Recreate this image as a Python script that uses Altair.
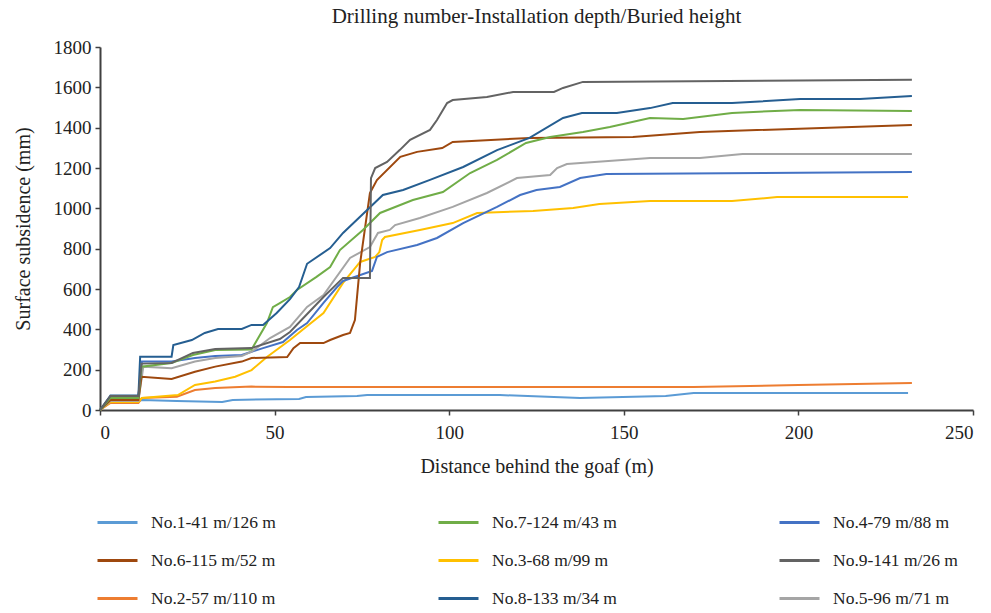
import altair as alt
import pandas as pd

# Series labels (legend order, column-major for 3 columns of 3)
series_order = ["No.1-41 m/126 m", "No.6-115 m/52 m", "No.2-57 m/110 m",
                "No.7-124 m/43 m", "No.3-68 m/99 m", "No.8-133 m/34 m",
                "No.4-79 m/88 m", "No.9-141 m/26 m", "No.5-96 m/71 m"]
series_colors = ["#5B9BD5", "#9E480E", "#ED7D31",
                 "#70AD47", "#FFC000", "#255E91",
                 "#4472C4", "#636363", "#A5A5A5"]

x1 = [0, 3, 11, 12, 22, 35, 38, 57, 59, 73.6, 76.5, 114.5, 137.5, 162, 170, 231.4]
y1 = [0, 45, 45, 50, 45, 40, 50, 55, 64, 69, 74, 74, 60, 69, 84, 84]

x2 = [0, 3, 11, 12, 22, 27.2, 33, 43.4, 54, 170, 200, 232.5]
y2 = [0, 35, 35, 60, 66, 99, 109, 116, 114, 114, 124, 134]

x3 = [0, 3, 11, 12, 22.3, 27.2, 33, 38.7, 43.4, 47.8, 54.4, 59, 64, 69.6, 74.5, 78.8, 80,
      80.8, 81.6, 91.6, 101, 108, 124, 135.5, 143, 157.5, 181, 193.9, 231.4]
y3 = [0, 40, 40, 60, 74, 124, 141, 165, 198, 263, 347, 412, 481, 630, 734, 759, 783,
      843, 858, 893, 927, 977, 987, 1002, 1022, 1036, 1036, 1056, 1056]

x4 = [0, 3, 11, 12, 20.5, 27.2, 33, 40.6, 43.4, 46.7, 52.4, 56.4, 59.3, 64, 67.9, 69.6,
      77.9, 79.3, 82.2, 90.8, 96.5, 104, 113.7, 120.3, 125, 131.7, 137.5, 145, 232.5]
y4 = [0, 65, 65, 240, 240, 258, 268, 273, 289, 307, 337, 397, 431, 531, 610, 640,
      690, 759, 783, 818, 853, 927, 1007, 1066, 1091, 1106, 1150, 1170, 1180]

x5 = [0, 3, 11, 12.4, 20.5, 27.2, 33, 40.6, 43.4, 48.7, 54.4, 59.3, 64, 71.6, 77.3, 79.6,
      83, 84.5, 91.6, 101, 110.8, 119.4, 128.9, 130.9, 133.7, 157.5, 171.8, 184, 232.5]
y5 = [0, 45, 45, 215, 207, 240, 258, 268, 289, 357, 412, 511, 570, 754, 808, 878,
      893, 917, 952, 1007, 1076, 1150, 1165, 1200, 1220, 1250, 1250, 1270, 1270]

x6 = [0, 3, 11, 11.9, 20.5, 27.2, 33, 40.6, 43.4, 53.6, 55.4, 57.3, 64, 65.9, 69.6, 71.6,
      73, 73.6, 74.5, 76.5, 77.3, 79.3, 86, 90.8, 98, 101, 123, 152.6, 171.8, 232.5]
y6 = [0, 50, 50, 165, 154, 190, 215, 240, 258, 263, 307, 332, 332, 347, 372, 382,
      446, 560, 729, 977, 1076, 1140, 1255, 1280, 1299, 1329, 1349, 1354, 1379, 1413]

x7 = [0, 3, 11, 11.9, 20.5, 26.6, 33, 43.4, 47.8, 49.5, 51, 54.4, 56.4, 62, 65.9, 68.7,
      75.3, 80.2, 89.6, 98.2, 106, 113.7, 122, 128.9, 138.3, 146, 157.5, 167, 181, 200.5, 232.5]
y7 = [0, 60, 60, 215, 233, 273, 298, 300, 431, 510, 525, 560, 595, 660, 709, 793,
      893, 977, 1041, 1081, 1175, 1240, 1324, 1354, 1379, 1403, 1448, 1443, 1473, 1488, 1483]

x8 = [0, 3, 11, 11.5, 20.5, 21, 26.3, 30, 33.8, 40.6, 43.4, 46.7, 50.6, 54.4, 57, 59.3,
      65.9, 69.6, 76.5, 81, 86.8, 94.5, 104, 113.7, 123, 132.6, 138, 148, 157.5, 164,
      181, 200.5, 217.6, 232.5]
y8 = [0, 72, 72, 264, 264, 322, 347, 382, 402, 402, 422, 422, 481, 550, 610, 725,
      803, 878, 992, 1066, 1091, 1141, 1205, 1289, 1349, 1448, 1473, 1473, 1497, 1522,
      1522, 1542, 1542, 1557]

x9 = [0, 3, 11, 11.9, 20.5, 26.6, 33, 43.4, 51.5, 54.4, 64, 69.6, 77.3, 77.6, 78.8, 82.2,
      85.9, 88.8, 94.5, 96.5, 99.4, 101, 110.8, 118.3, 130, 132.6, 138.3, 232.5]
y9 = [0, 70, 70, 230, 233, 283, 303, 307, 352, 387, 560, 655, 655, 1150, 1200, 1230,
      1290, 1340, 1389, 1438, 1522, 1537, 1552, 1577, 1577, 1597, 1627, 1637]

series_data = {
    "No.1-41 m/126 m": (x1, y1),
    "No.2-57 m/110 m": (x2, y2),
    "No.3-68 m/99 m": (x3, y3),
    "No.4-79 m/88 m": (x4, y4),
    "No.5-96 m/71 m": (x5, y5),
    "No.6-115 m/52 m": (x6, y6),
    "No.7-124 m/43 m": (x7, y7),
    "No.8-133 m/34 m": (x8, y8),
    "No.9-141 m/26 m": (x9, y9),
}

x_ticks = [0, 50, 100, 150, 200, 250]
y_ticks = [0, 200, 400, 600, 800, 1000, 1200, 1400, 1600, 1800]

rows = []
for name, (xs, ys) in series_data.items():
    for i, (xv, yv) in enumerate(zip(xs, ys)):
        rows.append({"series": name, "x": xv, "y": yv, "i": i})
df = pd.DataFrame(rows)

FONT = "Liberation Serif"

chart = alt.Chart(df).mark_line(strokeWidth=2).encode(
    x=alt.X("x:Q", scale=alt.Scale(domain=[0, 250], nice=False),
            axis=alt.Axis(values=x_ticks, title="Distance behind the goaf (m)",
                          format="d", grid=False, tickSize=5, labelPadding=8,
                          titlePadding=14)),
    y=alt.Y("y:Q", scale=alt.Scale(domain=[0, 1800], nice=False),
            axis=alt.Axis(values=y_ticks, title="Surface subsidence (mm)",
                          format="d", grid=False, tickSize=5, labelPadding=4,
                          titlePadding=20)),
    color=alt.Color("series:N",
                    scale=alt.Scale(domain=series_order, range=series_colors),
                    legend=alt.Legend(title=None, orient="none", legendX=-4, legendY=454,
                                      direction="vertical",
                                      columns=3, symbolType="stroke", symbolSize=1600,
                                      symbolStrokeWidth=3, labelFont=FONT, labelFontSize=17.5,
                                      labelColor="#222222", labelOffset=12,
                                      columnPadding=156, rowPadding=8, gridAlign="all",
                                      labelLimit=300)),
    order=alt.Order("i:Q"),
).properties(
    width=873,
    height=363,
    title=alt.TitleParams("Drilling number-Installation depth/Buried height",
                          font=FONT, fontSize=21, fontWeight="normal", color="#222222",
                          anchor="middle", offset=11),
    autosize=alt.AutoSizeParams(type="none"),
    padding={"left": 100, "top": 47, "right": 18, "bottom": 203},
).configure_view(
    stroke=None
).configure_axis(
    labelFont=FONT, titleFont=FONT, labelFontSize=19, titleFontSize=20,
    titleFontWeight="normal", labelColor="#222222", titleColor="#222222",
    domainColor="#404040", domainWidth=2, tickColor="#404040", tickWidth=1.5
)

chart.save("out.html", embed_options={"renderer": "svg", "actions": False})
